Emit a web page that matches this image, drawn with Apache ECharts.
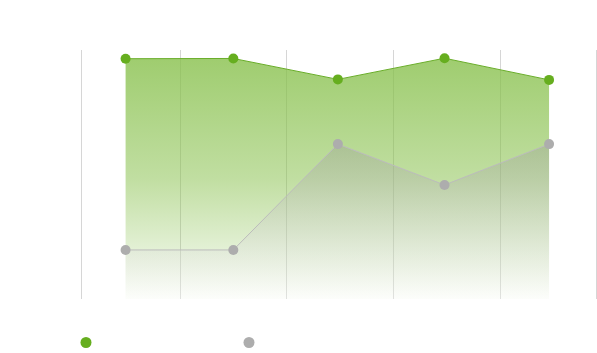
<!DOCTYPE html>
<html>
<head>
<meta charset="utf-8">
<script src="https://cdn.jsdelivr.net/npm/echarts@6/dist/echarts.min.js"></script>
<style>html,body{margin:0;padding:0;background:#fff;}#c{width:597px;height:353px;}</style>
</head>
<body>
<div id="c"></div>
<script>
var seriesNames = ['Series 1', 'Series 2'];
var xValues = [0.49, 1.5, 2.48, 3.48, 4.46];
var greenValues = [96.5, 96.6, 88.2, 96.7, 88.0];
var grayValues = [19.7, 19.7, 62.2, 45.8, 62.2];

function pairs(xs, ys) { return xs.map(function (x, i) { return [x, ys[i]]; }); }

var chart = echarts.init(document.getElementById('c'), null, {renderer: 'canvas'});
chart.setOption({
  animation: false,
  backgroundColor: '#fff',
  grid: {left: 81, right: 1, top: 50, bottom: 54, containLabel: false},
  legend: [
    {data: [seriesNames[0]], left: 75.5, top: 331.5, icon: 'circle', itemWidth: 11, itemHeight: 11,
     textStyle: {color: '#fff', fontSize: 12}},
    {data: [seriesNames[1]], left: 238.5, top: 331.5, icon: 'circle', itemWidth: 11, itemHeight: 11,
     textStyle: {color: '#fff', fontSize: 12}}
  ],
  xAxis: {
    type: 'value', min: 0.072, max: 4.9,
    axisLine: {show: false}, axisTick: {show: false}, axisLabel: {show: false},
    splitLine: {show: true, lineStyle: {color: '#d6d6d6', width: 1}}
  },
  yAxis: {
    type: 'value', min: 0, max: 100,
    axisLine: {show: false}, axisTick: {show: false}, axisLabel: {show: false},
    splitLine: {show: false}
  },
  series: [
    {
      name: seriesNames[0], type: 'line', data: pairs(xValues, greenValues),
      symbol: 'circle', symbolSize: 10,
      itemStyle: {color: '#66ae1f'},
      lineStyle: {color: '#6aae2a', width: 1},
      areaStyle: {opacity: 1, color: new echarts.graphic.LinearGradient(0, 0, 0, 1, [
        {offset: 0, color: 'rgba(135,192,75,0.8)'},
        {offset: 0.5, color: 'rgba(135,192,75,0.52)'},
        {offset: 1, color: 'rgba(135,192,75,0.03)'}
      ])}
    },
    {
      name: seriesNames[1], type: 'line', data: pairs(xValues, grayValues),
      symbol: 'circle', symbolSize: 10,
      itemStyle: {color: '#adadad'},
      lineStyle: {color: '#bcbcbc', width: 1},
      areaStyle: {opacity: 1, color: new echarts.graphic.LinearGradient(0, 0, 0, 1, [
        {offset: 0, color: 'rgba(150,150,150,0.35)'},
        {offset: 1, color: 'rgba(255,255,255,0.3)'}
      ])}
    }
  ]
});
</script>
</body>
</html>
